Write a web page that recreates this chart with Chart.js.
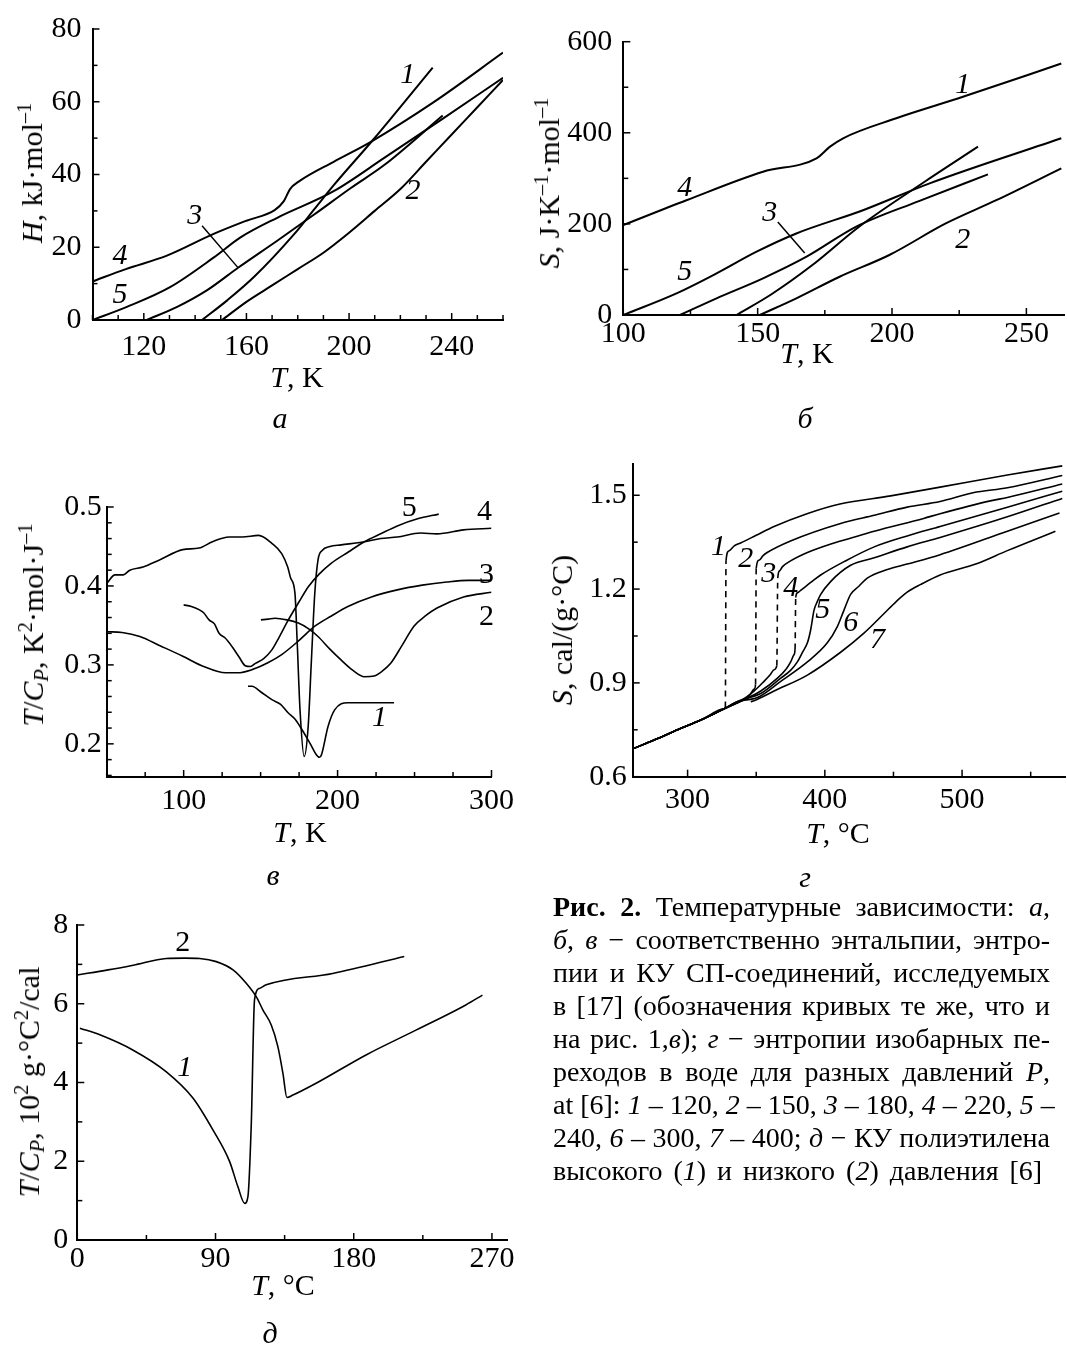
<!DOCTYPE html>
<html lang="ru">
<head>
<meta charset="utf-8">
<script src="https://cdn.jsdelivr.net/npm/chart.js@4/dist/chart.umd.min.js"></script>
<style>
  html, body { margin:0; padding:0; background:#fff; }
  body { width:1067px; height:1352px; position:relative; overflow:hidden; font-family:'Liberation Serif','Times New Roman',serif; color:#000; }
  canvas { position:absolute; }
  .t { position:absolute; white-space:nowrap; font-size:30px; line-height:1; transform:translate(-50%,-50%); }
  .yt { transform:translate(-50%,-50%) rotate(-90deg); }
  sup, sub { font-size:0.68em; line-height:0; }
  sup { vertical-align:0.55em; }
  sub { vertical-align:-0.25em; }
  #cap { position:absolute; left:553px; top:890px; width:497px; font-size:28px; line-height:33px; }
  #cap div { white-space:nowrap; }
  #cap .j { text-align:justify; text-align-last:justify; }
  #cap .last { word-spacing:4px; }
</style>
</head>
<body>
<canvas id="cA" width="520" height="400" style="left:0;top:0"></canvas>
<canvas id="cB" width="537" height="400" style="left:530px;top:0"></canvas>
<canvas id="cV" width="520" height="420" style="left:0;top:440px"></canvas>
<canvas id="cG" width="537" height="420" style="left:530px;top:440px"></canvas>
<canvas id="cD" width="530" height="420" style="left:0;top:890px"></canvas>

<div class="t yt" style="left:32px;top:173px"><i>H</i>, kJ·mol<sup>–1</sup></div>
<div class="t" style="left:297px;top:377px"><i>T</i>, K</div>
<div class="t" style="left:280px;top:418px"><i>а</i></div>

<div class="t yt" style="left:549px;top:183px"><i>S</i>, J·K<sup>–1</sup>·mol<sup>–1</sup></div>
<div class="t" style="left:807px;top:353px"><i>T</i>, K</div>
<div class="t" style="left:805px;top:418px"><i>б</i></div>

<div class="t yt" style="left:33px;top:625px"><i>T</i>/<i>C<sub>P</sub></i>, K<sup>2</sup>·mol·J<sup>–1</sup></div>
<div class="t" style="left:300px;top:832px"><i>T</i>, K</div>
<div class="t" style="left:273px;top:875px"><i>в</i></div>

<div class="t yt" style="left:562px;top:630px"><i>S</i>, cal/(g·°C)</div>
<div class="t" style="left:838px;top:833px"><i>T</i>, °C</div>
<div class="t" style="left:805px;top:877px"><i>г</i></div>

<div class="t yt" style="left:29px;top:1082px"><i>T</i>/<i>C<sub>P</sub></i>, 10<sup>2</sup> g·°C<sup>2</sup>/cal</div>
<div class="t" style="left:283px;top:1285px"><i>T</i>, °C</div>
<div class="t" style="left:270px;top:1333px"><i>д</i></div>

<div id="cap">
<div class="j"><b>Рис. 2.</b> Температурные зависимости: <i>а</i>,</div>
<div class="j"><i>б</i>, <i>в</i> − соответственно энтальпии, энтро-</div>
<div class="j">пии и КУ СП-соединений, исследуемых</div>
<div class="j">в [17] (обозначения кривых те же, что и</div>
<div class="j">на рис. 1,<i>в</i>); <i>г</i> − энтропии изобарных пе-</div>
<div class="j">реходов в воде для разных давлений <i>P</i>,</div>
<div class="j">at [6]: <i>1</i> – 120, <i>2</i> – 150, <i>3</i> – 180, <i>4</i> – 220, <i>5</i> –</div>
<div class="j">240, <i>6</i> – 300, <i>7</i> – 400; <i>д</i> − КУ полиэтилена</div>
<div class="last">высокого (<i>1</i>) и низкого (<i>2</i>) давления [6]</div>
</div>

<script>
// ---------- Panel а: H (kJ/mol) vs T (K) ----------
const aCurve1 = [[142.7,0],[152.5,5.4],[162.9,11.8],[178.6,23.6],[186.4,30.4],[194.2,37.2],[209.8,49.9],[232.6,69.4]];
const aCurve2 = [[150.5,0],[160,5],[170,9.5],[180,14],[190,18.5],[200,24],[210,30],[220,36],[230,43.5],[240,51],[250,58.5],[260,66]];
const aCurve3 = [[121.1,0],[133,3.6],[144.7,8.2],[157,14.5],[172,21.8],[186.4,29],[200.7,36.3],[213.7,42.6],[236.5,56.2]];
const aCurve4 = [[100,10.6],[113,14],[129,17.7],[147,23.6],[160,27.3],[171,30.2],[174.5,32.6],[177,36],[180.5,38.1],[194,43.5],[208.5,49],[233,59.9],[260,73.5]];
const aCurve5 = [[100,0],[113.4,3.6],[130.4,9.1],[147.3,17.2],[157.7,22.7],[172,28.1],[194,35.4],[214,44.7],[236,55.1],[260,66.6]];
const aXLabels = [120,160,200,240];
const aYLabels = [0,20,40,60,80];
const aCurveNames = [[222.9,67.2,'1'],[224.9,35.4,'2'],[139.9,28.6,'3'],[110.7,17.7,'4'],[110.7,6.8,'5']];

// ---------- Panel б: S (J/K/mol) vs T (K) ----------
const bCurve1 = [[142.1,0],[155,45],[170,108],[188,195],[212,292],[232,369.5]];
const bCurve2 = [[150.8,0],[164.4,36.6],[180.5,84],[199,131.7],[220,201],[238.8,252],[263,322]];
const bCurve3 = [[121.1,0],[134.7,36.6],[152,80.5],[168.2,128],[186.7,194],[210,250],[235.7,308.7]];
const bCurve4 = [[100,197.5],[123.5,252],[152,314.6],[171.9,344],[176.8,369],[181.8,388],[201.6,432],[226.4,479],[263,552]];
const bCurve5 = [[100,0],[119.8,47.5],[134.7,91.4],[149.6,139],[164.4,179],[189.2,230],[214,289],[263,388]];
const bXLabels = [100,150,200,250];
const bYLabels = [0,200,400,600];
const bCurveNames = [[226.3,505,'1'],[226.3,164.7,'2'],[154.5,223,'3'],[122.9,278,'4'],[122.9,94,'5']];

// ---------- Panel в: T/Cp vs T (K) ----------
const vCurve1 = [[141.8,0.273],[144.4,0.273],[150,0.266],[157.3,0.256],[163,0.25],[168,0.239],[172,0.232],[175.6,0.222],[182,0.201],[186.3,0.186],[188.3,0.183],[189.5,0.186],[193.8,0.222],[198.1,0.243],[206.7,0.252],[219.5,0.252],[236.7,0.252]];
const vCurve2 = [[150.2,0.357],[155,0.358],[159.4,0.359],[167,0.357],[174.5,0.353],[181,0.346],[187.3,0.336],[195,0.32],[202.4,0.306],[210,0.293],[217.4,0.285],[223.8,0.286],[229,0.292],[234.5,0.302],[242,0.325],[249.6,0.349],[257,0.362],[264.6,0.372],[281.8,0.386],[300,0.392]];
const vCurve3 = [[50,0.342],[60,0.341],[71.5,0.336],[85,0.324],[99.4,0.311],[113,0.298],[127.3,0.29],[135,0.29],[144.4,0.294],[155,0.303],[163.7,0.313],[175,0.331],[185.2,0.349],[196,0.362],[206.7,0.374],[222,0.386],[238.8,0.395],[255,0.401],[271,0.405],[285,0.407],[300,0.407]];
const vCurve4 = [[50,0.403],[55.4,0.414],[60.7,0.414],[65,0.42],[73.6,0.424],[84.3,0.433],[99.4,0.446],[110,0.448],[118.7,0.456],[129.4,0.462],[138,0.462],[148.7,0.464],[157.3,0.454],[163.7,0.441],[167.6,0.424],[169.5,0.41],[172.3,0.391],[173.8,0.327],[175.6,0.243],[178.3,0.184],[180.9,0.222],[183,0.306],[185.2,0.391],[187.3,0.433],[190,0.445],[195,0.45],[202.4,0.452],[217.4,0.456],[228,0.46],[238.8,0.462],[253.9,0.467],[264.6,0.466],[281.8,0.471],[300,0.473]];
const vCurve5 = [[100,0.376],[105,0.374],[110,0.37],[113,0.366],[116.5,0.357],[120,0.352],[123,0.34],[127,0.334],[131.5,0.323],[136,0.31],[140,0.299],[143.4,0.298],[146.6,0.302],[152,0.308],[157.3,0.319],[162,0.335],[168,0.357],[175,0.38],[181,0.399],[188,0.415],[196,0.429],[207,0.443],[217.4,0.456],[228,0.466],[238.8,0.476],[252,0.485],[265.7,0.491]];
const vXLabels = [100,200,300];
const vYLabels = [0.2,0.3,0.4,0.5];
const vCurveNames = [[227.3,0.233,'1'],[296.8,0.361,'2'],[296.8,0.414,'3'],[295.5,0.494,'4'],[246.6,0.499,'5']];

// ---------- Panel г: S cal/(g·°C) vs T (°C) ----------
const gBase = [[260,0.689],[276,0.718],[292.7,0.75],[310,0.782],[327,0.818]];
const gCurve1 = [[327.5,0.822],[328,1.29],[330,1.322],[334,1.338],[339,1.348],[350,1.372],[363,1.4],[387,1.441],[411,1.472],[448,1.498],[484,1.526],[533,1.565],[573,1.594]];
const gCurve2 = [[335,0.834],[341,0.846],[345.5,0.862],[348.5,0.88],[349.5,0.895],[350,1.266],[352,1.292],[355,1.307],[358,1.317],[375,1.354],[411.5,1.41],[436,1.436],[460,1.462],[484,1.48],[508,1.508],[533,1.524],[573,1.563]];
const gCurve3 = [[338.8,0.843],[348.4,0.874],[355.7,0.905],[360,0.925],[363,0.942],[365,0.955],[365.7,1.235],[367,1.258],[369,1.271],[375,1.29],[387.3,1.317],[405,1.345],[423.6,1.369],[436,1.385],[472,1.426],[484,1.441],[520.6,1.482],[533,1.493],[573,1.536]];
const gCurve4 = [[338,0.84],[353.3,0.874],[365.5,0.915],[372,0.945],[375.1,0.967],[377.5,0.99],[378.3,1.008],[378.8,1.173],[380,1.188],[382.4,1.196],[390,1.222],[397,1.245],[415,1.29],[436,1.335],[460,1.37],[484,1.4],[533,1.462],[573,1.513]];
const gCurve5 = [[337.6,0.843],[353.3,0.866],[367.9,0.915],[375,0.94],[380,0.967],[384,1.0],[387.3,1.028],[389.7,1.07],[392.1,1.132],[394.5,1.16],[397,1.183],[404.2,1.224],[418.8,1.276],[436,1.3],[460,1.335],[484,1.365],[533,1.431],[573,1.49]];
const gCurve6 = [[336,0.84],[350.9,0.853],[367.9,0.905],[387.3,0.967],[401.8,1.028],[409.1,1.08],[413.9,1.132],[418.8,1.183],[425,1.21],[430.9,1.235],[445,1.262],[460,1.28],[484,1.31],[533,1.385],[571,1.443]];
const gCurve7 = [[346,0.84],[348.4,0.843],[363,0.874],[387.3,0.925],[411.5,0.998],[428.5,1.059],[443,1.121],[452,1.16],[460,1.19],[470,1.215],[484,1.245],[510,1.28],[533,1.323],[568,1.385]];
const gXLabels = [300,400,500];
const gYLabels = [0.6,0.9,1.2,1.5];
const gCurveNames = [[322.5,1.333,'1'],[342.4,1.296,'2'],[359.1,1.249,'3'],[375.1,1.203,'4'],[398.4,1.132,'5'],[418.8,1.091,'6'],[438.4,1.036,'7']];

// ---------- Panel д: T/Cp (10^2 g·°C²/cal) vs T (°C) ----------
const dCurve1 = [[1.7,5.38],[14.7,5.21],[36.4,4.82],[58,4.27],[75.4,3.6],[88.4,2.79],[99.2,1.99],[104.6,1.35],[109,0.93],[111.1,1.1],[113.3,2.96],[115.4,6.1],[118.7,6.39],[123,6.48],[166.3,6.77],[212.9,7.2]];
const dCurve2 = [[0,6.73],[20,6.86],[36.4,6.98],[58,7.15],[70,7.16],[79.7,7.15],[90.5,7.07],[101.4,6.86],[110,6.52],[116.5,6.18],[120.9,5.84],[126.3,5.46],[130.6,4.91],[133.9,4.23],[136.5,3.62],[140.4,3.68],[155.5,3.98],[188,4.7],[220.5,5.33],[253,5.97],[263.8,6.22]];
const dXLabels = [0,90,180,270];
const dYLabels = [0,2,4,6,8];
const dCurveNames = [[68.7,7.54,'2'],[70,4.37,'1']];

// ---------- helpers ----------
const FONT = "'Liberation Serif', 'Times New Roman', serif";
Chart.defaults.font.family = FONT;
Chart.defaults.color = '#000';

function range(a, b, s) {
  const out = [];
  for (let i = 0; a + i * s <= b + 1e-9; i++) out.push(Math.round((a + i * s) * 1e6) / 1e6);
  return out;
}
function fmt(v, dec) { return dec ? v.toFixed(dec) : String(v); }

const inwardTicks = {
  id: 'inwardTicks',
  afterDraw(chart) {
    const { ctx, chartArea: a, scales } = chart;
    ctx.save();
    ctx.strokeStyle = '#000';
    ctx.lineWidth = 1.5;
    for (const s of Object.values(scales)) {
      s.ticks.forEach(t => {
        const len = t.label ? 7 : 5;
        const p = s.getPixelForValue(t.value);
        ctx.beginPath();
        if (s.isHorizontal()) { ctx.moveTo(p, a.bottom); ctx.lineTo(p, a.bottom - len); }
        else { ctx.moveTo(a.left, p); ctx.lineTo(a.left + len, p); }
        ctx.stroke();
      });
    }
    ctx.restore();
  }
};

const curveLabels = {
  id: 'curveLabels',
  afterDatasetsDraw(chart, args, opts) {
    const { ctx, scales: { x, y } } = chart;
    ctx.save();
    ctx.fillStyle = '#000';
    ctx.strokeStyle = '#000';
    ctx.lineWidth = 1.5;
    (opts.leaders || []).forEach(l => {
      ctx.beginPath();
      ctx.moveTo(x.getPixelForValue(l[0]), y.getPixelForValue(l[1]));
      ctx.lineTo(x.getPixelForValue(l[2]), y.getPixelForValue(l[3]));
      ctx.stroke();
    });
    ctx.textAlign = 'center';
    ctx.textBaseline = 'middle';
    (opts.items || []).forEach(it => {
      const upright = opts.upright && it[2] !== '1';
      ctx.font = (upright ? '' : 'italic ') + '30px ' + FONT;
      ctx.fillText(it[2], x.getPixelForValue(it[0]), y.getPixelForValue(it[1]));
    });
    ctx.restore();
  }
};

function panel(id, p) {
  const datasets = p.curves.map(c => ({
    data: c.map(pt => ({ x: pt[0], y: pt[1] })),
    borderColor: '#000',
    borderWidth: p.lw,
    pointRadius: 0,
    fill: false,
    cubicInterpolationMode: 'monotone',
    segment: p.dashSteep ? {
      borderDash: ctx => {
        const a = c[ctx.p0DataIndex], b = c[ctx.p1DataIndex];
        const dx = Math.max(b[0] - a[0], 1e-6);
        return (b[1] - a[1]) / dx > 0.05 ? [6, 5] : undefined;
      }
    } : undefined
  }));
  const axis = (min, max, minorFrom, minorTo, step, labels, dec, pad, fitFn) => ({
    type: 'linear', min, max,
    grid: { display: false, drawTicks: false },
    border: { display: true, color: '#000', width: 2 },
    ticks: {
      color: '#000', font: { size: 30, family: FONT }, padding: pad,
      autoSkip: false, maxRotation: 0, minRotation: 0,
      callback: v => labels.some(l => Math.abs(l - v) < 1e-9) ? fmt(v, dec) : ''
    },
    afterBuildTicks: s => { s.ticks = range(minorFrom, minorTo, step).map(v => ({ value: v })); },
    afterFit: fitFn
  });
  new Chart(document.getElementById(id), {
    type: 'line',
    data: { datasets },
    options: {
      responsive: false, animation: false, devicePixelRatio: 1,
      layout: { autoPadding: false, padding: { left: 0, top: p.padTop, right: p.padRight, bottom: 0 } },
      plugins: { legend: { display: false }, tooltip: { enabled: false }, curveLabels: p.labels },
      scales: {
        x: Object.assign(axis(p.x[0], p.x[1], p.x[2], p.x[3], p.x[4], p.xLabels, p.xDec, p.xPad, s => { s.height = p.xH; }), { position: 'bottom' }),
        y: Object.assign(axis(p.y[0], p.y[1], p.y[2], p.y[3], p.y[4], p.yLabels, p.yDec, p.yPad, s => { s.width = p.yW; }), { position: 'left' })
      }
    },
    plugins: [inwardTicks, curveLabels]
  });
}

panel('cA', {
  curves: [aCurve1, aCurve2, aCurve3, aCurve4, aCurve5], lw: 2,
  x: [100, 260, 100, 260, 10], y: [0, 80, 0, 80, 10],
  xLabels: aXLabels, yLabels: aYLabels, xDec: 0, yDec: 0, xPad: 9, yPad: 11,
  yW: 92.5, xH: 80, padTop: 26, padRight: 17,
  labels: { items: aCurveNames, leaders: [[142.7, 25.9, 156.7, 14.4]] }
});
panel('cB', {
  curves: [bCurve1, bCurve2, bCurve3, bCurve4, bCurve5], lw: 2,
  x: [100, 264, 100, 250, 25], y: [0, 600, 0, 600, 100],
  xLabels: bXLabels, yLabels: bYLabels, xDec: 0, yDec: 0, xPad: 1, yPad: 11,
  yW: 93.3, xH: 85, padTop: 41.7, padRight: 3,
  labels: { items: bCurveNames, leaders: [[157.5, 204, 167.5, 136]] }
});
panel('cV', {
  curves: [vCurve1, vCurve2, vCurve3, vCurve4, vCurve5], lw: 1.6,
  x: [50, 300, 50, 300, 25], y: [0.158, 0.5, 0.16, 0.5, 0.02],
  xLabels: vXLabels, yLabels: vYLabels, xDec: 0, yDec: 1, xPad: 6, yPad: 5,
  yW: 106.7, xH: 83, padTop: 67, padRight: 25,
  labels: { items: vCurveNames, upright: true }
});
panel('cG', {
  curves: [gBase.concat(gCurve1), gBase.concat(gCurve2), gBase.concat(gCurve3), gBase.concat(gCurve4), gBase.concat(gCurve5), gBase.concat(gCurve6), gCurve7], lw: 1.6,
  dashSteep: true,
  x: [260, 575, 300, 550, 50], y: [0.6, 1.6, 0.6, 1.5, 0.15],
  xLabels: gXLabels, yLabels: gYLabels, xDec: 0, yDec: 1, xPad: 5, yPad: 6,
  yW: 102.7, xH: 83.3, padTop: 13.7, padRight: 2,
  labels: { items: gCurveNames }
});
panel('cD', {
  curves: [dCurve1, dCurve2], lw: 1.6,
  x: [0, 280, 0, 270, 45], y: [0, 8, 0, 8, 1],
  xLabels: dXLabels, yLabels: dYLabels, xDec: 0, yDec: 0, xPad: 1, yPad: 9,
  yW: 77.3, xH: 70, padTop: 35, padRight: 22.7,
  labels: { items: dCurveNames, upright: true }
});
</script>
</body>
</html>
